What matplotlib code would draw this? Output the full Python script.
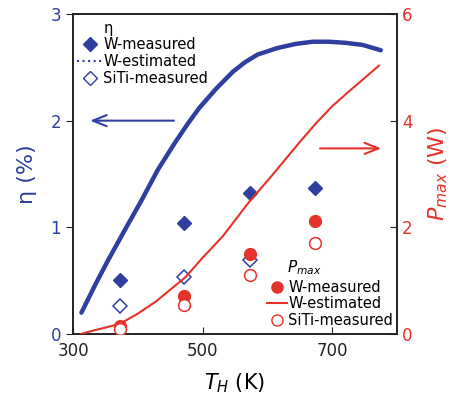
import matplotlib
matplotlib.use("Agg")
import matplotlib.pyplot as plt
from matplotlib.lines import Line2D

plt.rcParams['font.family'] = ['DejaVu Sans']

BLUE = '#2f3f9f'
RED = '#e5322a'

# measured data
T_meas = [372, 472, 573, 673]
eta_W = [0.51, 1.04, 1.32, 1.37]
T_siti_eta = [372, 472, 573]
eta_SiTi = [0.26, 0.53, 0.69]
P_W = [0.15, 0.72, 1.50, 2.12]
P_SiTi = [0.09, 0.54, 1.11, 1.70]

# estimated curves
T_eta_est = [313, 335, 354, 380, 406, 431, 457, 477, 495, 521, 547, 566, 585, 615, 644, 670, 695, 720, 747, 775]
eta_est = [0.20, 0.47, 0.69, 0.975, 1.256, 1.54, 1.79, 1.97, 2.12, 2.30, 2.46, 2.55, 2.62, 2.68, 2.72, 2.74, 2.74, 2.73, 2.71, 2.66]
T_P_est = [312, 330, 350, 372, 400, 428, 450, 474, 500, 531, 550, 572, 600, 624, 650, 675, 700, 726, 750, 772]
P_est = [0.0, 0.06, 0.12, 0.19, 0.38, 0.61, 0.83, 1.07, 1.43, 1.83, 2.13, 2.48, 2.87, 3.22, 3.60, 3.95, 4.27, 4.55, 4.80, 5.03]

xticks = [300, 500, 700]
yticks_left = [0, 1, 2, 3]
yticks_right = [0, 2, 4, 6]
legend_labels = ['W-measured', 'W-estimated', 'SiTi-measured']

fig = plt.figure(figsize=(4.6, 4.09), dpi=100)
ax = fig.add_axes([0.1587, 0.1834, 0.863 - 0.1587, 0.9658 - 0.1834])
ax2 = ax.twinx()

ax.plot(T_eta_est, eta_est, color=BLUE, lw=3.2, solid_capstyle='round', solid_joinstyle='round', zorder=3)
ax.plot(T_meas, eta_W, ls='none', marker='D', ms=7, color=BLUE, zorder=4)
ax.plot(T_siti_eta, eta_SiTi, ls='none', marker='D', ms=7, mfc='white', mec=BLUE, mew=1.1, zorder=4)

ax2.plot(T_P_est, P_est, color=RED, lw=1.5, solid_joinstyle='round', zorder=3)
ax2.plot(T_meas, P_W, ls='none', marker='o', ms=8.5, color=RED, zorder=4)
ax2.plot(T_meas, P_SiTi, ls='none', marker='o', ms=8.5, mfc='white', mec=RED, mew=1.1, zorder=4)

ax.set_xlim(300, 800)
ax.set_ylim(0, 3)
ax2.set_ylim(0, 6)
ax.set_xticks(xticks)
ax.set_yticks(yticks_left)
ax2.set_yticks(yticks_right)

ax.tick_params(axis='x', direction='in', length=5, labelsize=12, pad=6, colors='#222222')
ax.tick_params(axis='y', direction='out', length=5, labelsize=12, labelcolor=BLUE, color='#222222')
ax2.tick_params(axis='y', direction='in', length=5, labelsize=12, labelcolor=RED, color='#222222')
for a in (ax, ax2):
    for s in a.spines.values():
        s.set_color('#222222')
        s.set_linewidth(1.2)

ax.set_xlabel(r'$T_H$ (K)', fontsize=15, labelpad=8)
ax.set_ylabel(r'η (%)', fontsize=16, color=BLUE, labelpad=10)
ax2.set_ylabel(r'$P_{max}$ (W)', fontsize=16, color=RED, labelpad=10)

# arrows
ax.annotate('', xy=(322, 2.0), xytext=(460, 2.0),
            arrowprops=dict(arrowstyle='->,head_length=1.0,head_width=0.4', color=BLUE, lw=1.5))
ax2.annotate('', xy=(780, 3.48), xytext=(677, 3.48),
             arrowprops=dict(arrowstyle='->,head_length=1.0,head_width=0.4', color=RED, lw=1.5))

# legends
h1 = [Line2D([], [], ls='none', marker='D', ms=7, color=BLUE),
      Line2D([], [], ls=':', lw=1.5, color=BLUE),
      Line2D([], [], ls='none', marker='D', ms=7, mfc='white', mec=BLUE)]
leg1 = ax.legend(h1, legend_labels,
                 loc='upper left', bbox_to_anchor=(-0.005, 0.945), frameon=False,
                 fontsize=10.5, handlelength=1.7, handletextpad=0.1,
                 labelspacing=0.12, borderaxespad=0)
ax.text(0.093, 0.955, 'η', transform=ax.transAxes, fontsize=10.5, ha='left', va='center')

h2 = [Line2D([], [], ls='none', marker='o', ms=8, color=RED),
      Line2D([], [], ls='-', lw=1.5, color=RED),
      Line2D([], [], ls='none', marker='o', ms=8, mfc='white', mec=RED)]
leg2 = ax2.legend(h2, legend_labels,
                  loc='lower left', bbox_to_anchor=(0.581, 0.0), frameon=False,
                  fontsize=10.5, handlelength=1.4, handletextpad=0.05,
                  labelspacing=0.12, borderaxespad=0)
ax2.text(0.66, 0.207, r'$P_{max}$', transform=ax.transAxes, fontsize=11, ha='left', va='center')

fig.savefig('out.png', dpi=100)
